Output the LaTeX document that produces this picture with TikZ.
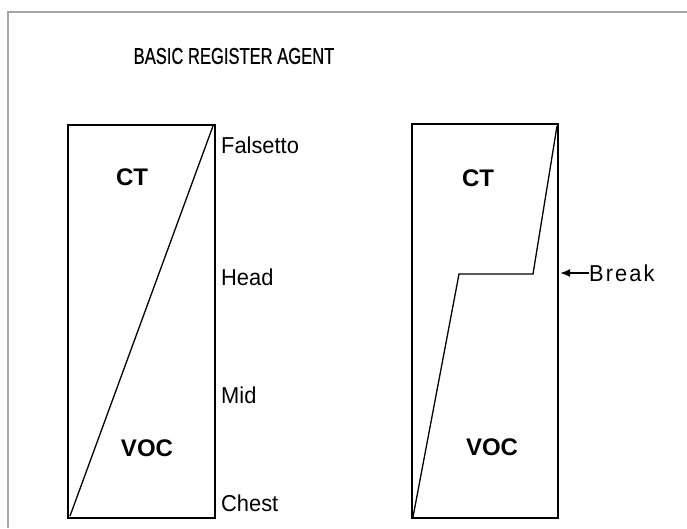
\documentclass[tikz,border=0pt]{standalone}
\usepackage{fontspec}
\setmainfont{Liberation Sans}
\newfontfamily\titlefont[FakeStretch=0.72, FakeBold=0.6]{Liberation Sans}
\newfontfamily\regfont[FakeStretch=0.95]{Liberation Sans}
\newfontfamily\breakfont[FakeStretch=0.95, LetterSpace=9]{Liberation Sans}
\usetikzlibrary{arrows.meta}

\tikzset{
  boxline/.style={line width=1.6pt},
  curve/.style={line width=1.3pt, line join=miter},
  regname/.style={anchor=west, inner sep=0pt, font=\regfont\fontsize{23}{25}\selectfont},
  muscle/.style={inner sep=0pt, font=\bfseries\fontsize{24}{26}\selectfont}
}

\begin{document}
\begin{tikzpicture}[x=1pt, y=-1pt, >={Latex[length=10pt, width=8pt]}]
    \useasboundingbox (0,0) rectangle (687,528);
    \draw[line width=1.5pt, black!35] (8,528) -- (8,12) -- (687,12);

    \node[font=\titlefont\fontsize{23}{25}\selectfont] (title) at (234,56) {BASIC REGISTER AGENT};

    % left box: linear change
    \draw[boxline] (68,125) rectangle (215,518);
    \draw[curve] (70,516) -- (213,126);
    \node[muscle] (ctL) at (132,177) {CT};
    \node[muscle] (vocL) at (147,448) {VOC};

    \node[regname] (falsetto) at (221,145) {Falsetto};
    \node[regname] (head) at (221,277) {Head};
    \node[regname] (mid) at (221,395) {Mid};
    \node[regname] (chest) at (221,503) {Chest};

    % right box: with break
    \draw[boxline] (412,124) rectangle (558,518);
    \draw[curve] (413,517) -- (459,274) -- (533,274) -- (557,126);
    \node[muscle] (ctR) at (478,178) {CT};
    \node[muscle] (vocR) at (492,447) {VOC};

    \node[regname, font=\breakfont\fontsize{23}{25}\selectfont] (break) at (589,273) {Break};
    \coordinate (breakpt) at (560,273);
    \draw[->, line width=1.8pt] (break.west) -- (breakpt);
\end{tikzpicture}
\end{document}
